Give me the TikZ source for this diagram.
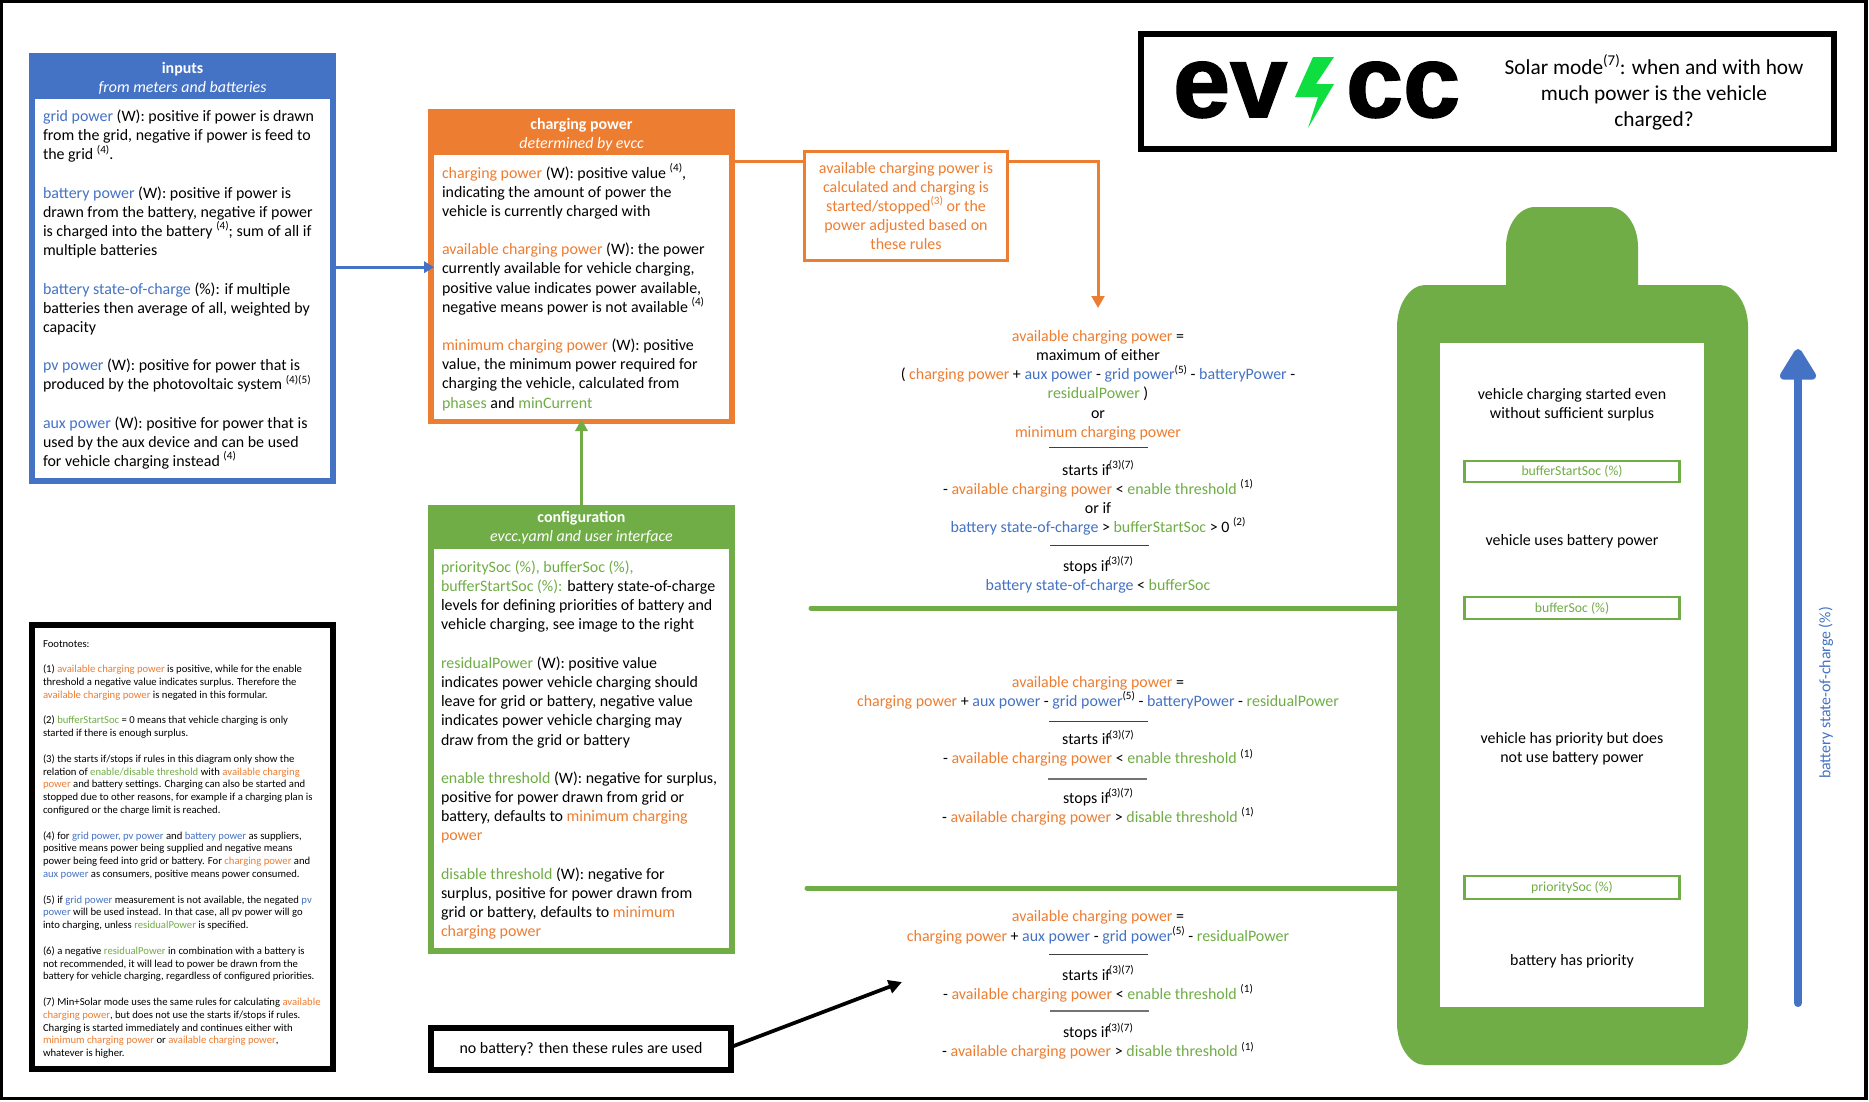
\documentclass[tikz,border=0pt]{standalone}
\usepackage{fontspec}
\usepackage{graphicx}
\usetikzlibrary{arrows.meta}
\setmainfont{Carlito}
\newfontfamily\logofont[BoldFeatures={FakeBold=1.5}]{Liberation Sans}
\definecolor{cblue}{HTML}{4472C4}
\definecolor{corange}{HTML}{ED7D31}
\definecolor{cgreen}{HTML}{70AD47}
\definecolor{cbolt}{HTML}{0FDE41}
\lineskiplimit=-30pt
\newcommand\cb[1]{\textcolor{cblue}{#1}}
\newcommand\co[1]{\textcolor{corange}{#1}}
\newcommand\cg[1]{\textcolor{cgreen}{#1}}
\newcommand\spr[1]{\raisebox{.42em}{\scalebox{.7}{#1}}}
\newcommand\tstr{\rule{0pt}{10pt}}
\newcommand\mainsize{\fontsize{11.95}{14.38}\selectfont}
\newcommand\smallsize{\fontsize{8}{9.6}\selectfont}
\tikzset{
  every node/.style={inner sep=0pt,outer sep=0pt},
  sized/.style n args={2}{minimum width=#1*0.75pt,minimum height=#2*0.75pt},
  body/.style={anchor=north west,align=left,font=\mainsize,text=black},
  form/.style={anchor=north,align=center,font=\mainsize,text=black},
  head/.style={anchor=center,align=center,font=\mainsize,text=white},
  whitebox/.style={fill=white},
  framed/.style={draw=#1,fill=white,line width=4.5pt},
  rulel/.style={draw=black!75,line width=1.1pt},
  conn/.style={draw=#1,line width=2.25pt},
  divider/.style={draw=cgreen,line width=3.75pt,line cap=round},
  socbox/.style={draw=cgreen,line width=2pt,fill=white,font=\fontsize{10.3}{12}\selectfont,text=cgreen},
  battxt/.style={align=center,font=\mainsize,text=black}
}
\begin{document}
\begin{tikzpicture}[x=0.75pt,y=-0.75pt]
\useasboundingbox (0,0) rectangle (1869,1101);
\fill[white] (0,0) rectangle (1869,1101);
\draw[black,line width=2.5pt] (1.7,1.7) rectangle (1866,1098.4);

% dividers (under the battery)
\coordinate (d1a) at (811,608);
\coordinate (d1b) at (1400,608);
\coordinate (d2a) at (807,888);
\coordinate (d2b) at (1400,888);
\draw[divider] (d1a) -- (d1b);
\draw[divider] (d2a) -- (d2b);

% battery
\fill[cgreen] (1506,247) .. controls (1506,225) and (1519,207) .. (1535,207) -- (1609,207)
 .. controls (1625,207) and (1638,225) .. (1638,247) -- (1638,285) -- (1720,285)
 .. controls (1735,285) and (1748,304) .. (1748,327) -- (1748,1023)
 .. controls (1748,1046) and (1735,1065) .. (1720,1065) -- (1425,1065)
 .. controls (1410,1065) and (1397,1046) .. (1397,1023) -- (1397,327)
 .. controls (1397,304) and (1410,285) .. (1425,285) -- (1506,285) -- cycle;
\node (batin) [whitebox,sized={264}{664}] at (1572,675) {};
\node (bstart) [socbox,sized={215.5}{21}] at (1572,471.5) {bufferStartSoc (\%)};
\node (bsoc) [socbox,sized={215.5}{22}] at (1572,608) {bufferSoc (\%)};
\node (psoc) [socbox,sized={215.5}{23}] at (1572,887.5) {prioritySoc (\%)};
\node (t1) [battxt,anchor=north] at (1572,386.4) {\tstr vehicle charging started even\\without sufficient surplus};
\node (t2) [battxt,anchor=north] at (1572,532.2) {\tstr vehicle uses battery power};
\node (t3) [battxt,anchor=north] at (1572,730.2) {\tstr vehicle has priority but does\\not use battery power};
\node (t4) [battxt,anchor=north] at (1572,952.4) {\tstr battery has priority};

% soc arrow
\coordinate (sa) at (1798,1003);
\coordinate (sb) at (1798,349);
\draw[draw=cblue,line width=6pt,line cap=round,-{Triangle[round,length=26pt,width=30pt]}] (sa) -- (sb);
\node (soclabel) [rotate=90,font=\fontsize{11.9}{14}\selectfont,text=cblue] at (1826,693) {battery state-of-charge (\%)};

% inputs
\node (inputs) [fill=cblue,sized={307}{431}] at (182.5,268.5) {};
\node (inputsin) [whitebox,sized={295}{379}] at (182.5,288.5) {};
\node (inh) [head] at (182.5,78.7) {\textbf{inputs}\\\textit{from meters and batteries}};
\node (intxt) [body] at (43,108.1) {\tstr\cb{grid power} (W): positive if power is drawn\\
from the grid, negative if power is feed to\\
the grid \spr{(4)}.\\[14.38pt]
\cb{battery power} (W): positive if power is\\
drawn from the battery, negative if power\\
is charged into the battery \spr{(4)}; sum of all if\\
multiple batteries\\[14.38pt]
\cb{battery state-of-charge} (\%): if multiple\\
batteries then average of all, weighted by\\
capacity\\[14.38pt]
\cb{pv power} (W): positive for power that is\\
produced by the photovoltaic system \spr{(4)(5)}\\[14.38pt]
\cb{aux power} (W): positive for power that is\\
used by the aux device and can be used\\
for vehicle charging instead \spr{(4)}};

% charging
\node (charging) [fill=corange,sized={307}{315}] at (581.5,266.5) {};
\node (chargingin) [whitebox,sized={295}{264}] at (581.5,287) {};
\node (chh) [head] at (581.5,134.7) {\textbf{charging power}\\\textit{determined by evcc}};
\node (chtxt) [body] at (442,163.2) {\tstr\co{charging power} (W): positive value \spr{(4)},\\
indicating the amount of power the\\
vehicle is currently charged with\\[14.38pt]
\co{available charging power} (W): the power\\
currently available for vehicle charging,\\
positive value indicates power available,\\
negative means power is not available \spr{(4)}\\[14.38pt]
\co{minimum charging power} (W): positive\\
value, the minimum power required for\\
charging the vehicle, calculated from\\
\cg{phases} and \cg{minCurrent}};

% configuration
\node (config) [fill=cgreen,sized={307}{449}] at (581.5,729.5) {};
\node (configin) [whitebox,sized={295}{399}] at (581.5,748.5) {};
\node (cfh) [head] at (581.5,527.7) {\textbf{configuration}\\\textit{evcc.yaml and user interface}};
\node (cftxt) [body] at (441,559.1) {\tstr\cg{prioritySoc (\%), bufferSoc (\%),}\\
\cg{bufferStartSoc (\%):} battery state-of-charge\\
levels for defining priorities of battery and\\
vehicle charging, see image to the right\\[14.38pt]
\cg{residualPower} (W): positive value\\
indicates power vehicle charging should\\
leave for grid or battery, negative value\\
indicates power vehicle charging may\\
draw from the grid or battery\\[14.38pt]
\cg{enable threshold} (W): negative for surplus,\\
positive for power drawn from grid or\\
battery, defaults to \co{minimum charging}\\
\co{power}\\[14.38pt]
\cg{disable threshold} (W): negative for\\
surplus, positive for power drawn from\\
grid or battery, defaults to \co{minimum}\\
\co{charging power}};

% no battery
\node (nobat) [framed=black,sized={300}{42},font=\mainsize] at (581,1049) {no battery? then these rules are used};

% footnotes
\node (foot) [framed=black,sized={301}{444}] at (182.5,847) {};
\node (foottxt) [anchor=north west,align=left,font=\smallsize,text=black] at (43,633.7) {\tstr Footnotes:\\[9.6pt]
(1) \co{available charging power} is positive, while for the enable\\
threshold a negative value indicates surplus. Therefore the\\
\co{available charging power} is negated in this formular.\\[9.6pt]
(2) \cg{bufferStartSoc} = 0 means that vehicle charging is only\\
started if there is enough surplus.\\[9.6pt]
(3) the starts if/stops if rules in this diagram only show the\\
relation of \cg{enable/disable threshold} with \co{available charging}\\
\co{power} and battery settings. Charging can also be started and\\
stopped due to other reasons, for example if a charging plan is\\
configured or the charge limit is reached.\\[9.6pt]
(4) for \cb{grid power, pv power} and \cb{battery power} as suppliers,\\
positive means power being supplied and negative means\\
power being feed into grid or battery. For \co{charging power} and\\
\cb{aux power} as consumers, positive means power consumed.\\[9.6pt]
(5) if \cb{grid power} measurement is not available, the negated \cb{pv}\\
\cb{power} will be used instead. In that case, all pv power will go\\
into charging, unless \cg{residualPower} is specified.\\[9.6pt]
(6) a negative \cg{residualPower} in combination with a battery is\\
not recommended, it will lead to power be drawn from the\\
battery for vehicle charging, regardless of configured priorities.\\[9.6pt]
(7) Min+Solar mode uses the same rules for calculating \co{available}\\
\co{charging power}, but does not use the starts if/stops if rules.\\
Charging is started immediately and continues either with\\
\co{minimum charging power} or \co{available charging power},\\
whatever is higher.};

% note
\node (note) [draw=corange,line width=2.25pt,fill=white,sized={203}{109},align=center,font=\mainsize,text=corange] at (906,206)
 {available charging power is\\calculated and charging is\\started/stopped\spr{(3)} or the\\power adjusted based on\\these rules};

% connectors
\coordinate (nl) at (note.west |- 0,161);
\coordinate (nr) at (note.east |- 0,161);
\coordinate (bend) at (1098,161);
\coordinate (tip1) at (1098,308);
\draw[conn=corange] (charging.east |- nl) -- (nl);
\draw[conn=corange,-{Triangle[length=9pt,width=9.5pt]}] (nr) -- (bend) -- (tip1);
\draw[conn=cblue,-{Triangle[length=7.5pt,width=8.5pt]}] ([yshift=1pt]inputs.east) -- ([yshift=1pt]inputs.east -| chargingin.west);
\draw[conn=cgreen,-{Triangle[length=9pt,width=9pt]}] (config.north) -- (chargingin.south);
\coordinate (tip2) at (902,982);
\draw[draw=black,line width=2.8pt,-{Triangle[length=10pt,width=10pt]}] ([yshift=1.5pt]nobat.east) -- (tip2);

% formula blocks
\node (f1) [form] at (1098,328.1) {\tstr\co{available charging power} =\\
maximum of either\\
( \co{charging power} + \cb{aux power} - \cb{grid power}\spr{(5)} - \cb{batteryPower} -\\
\cg{residualPower} )\\
or\\
\co{minimum charging power}};
\draw[rulel] (1049,447.5) -- (1148,447.5);
\node (f2) [form] at (1098,460.2) {\tstr starts if\kern-1pt\spr{(3)(7)}\\
- \co{available charging power} < \cg{enable threshold} \spr{(1)}\\
or if\\
\cb{battery state-of-charge} > \cg{bufferStartSoc} > 0 \spr{(2)}};
\draw[rulel] (1050,545.5) -- (1149,545.5);
\node (f3) [form] at (1098,556.7) {\tstr stops if\kern-1pt\spr{(3)(7)}\\
\cb{battery state-of-charge} < \cg{bufferSoc}};

\node (f4) [form] at (1098,674.1) {\tstr\co{available charging power} =\\
\co{charging power} + \cb{aux power} - \cb{grid power}\spr{(5)} - \cb{batteryPower} - \cg{residualPower}};
\draw[rulel] (1049,721.5) -- (1148,721.5);
\node (f5) [form] at (1098,729.9) {\tstr starts if\kern-1pt\spr{(3)(7)}\\
- \co{available charging power} < \cg{enable threshold} \spr{(1)}};
\draw[rulel,draw=black!55,line width=1.5pt] (1048,779) -- (1147,779);
\node (f6) [form] at (1098,788.2) {\tstr stops if\kern-1pt\spr{(3)(7)}\\
- \co{available charging power} > \cg{disable threshold} \spr{(1)}};

\node (f7) [form] at (1098,908.5) {\tstr\co{available charging power} =\\
\co{charging power} + \cb{aux power} - \cb{grid power}\spr{(5)} - \cg{residualPower}};
\draw[rulel] (1049,954.5) -- (1148,954.5);
\node (f8) [form] at (1098,965.2) {\tstr starts if\kern-1pt\spr{(3)(7)}\\
- \co{available charging power} < \cg{enable threshold} \spr{(1)}};
\draw[rulel,draw=black!55,line width=1.5pt] (1050,1011) -- (1149,1011);
\node (f9) [form] at (1098,1022.9) {\tstr stops if\kern-1pt\spr{(3)(7)}\\
- \co{available charging power} > \cg{disable threshold} \spr{(1)}};

% title box
\node (title) [framed=black,sized={693.5}{115.5}] at (1487.5,91.5) {};
\node (ev) [anchor=base west,font=\logofont\bfseries\fontsize{77}{77}\selectfont,text=black] at (1173,117) {ev};
\node (cc) [anchor=base west,font=\logofont\bfseries\fontsize{77}{77}\selectfont,text=black] at (1346,117) {cc};
\fill[cbolt] (1334,57) -- (1313,57) -- (1295,97) -- (1318,97) -- (1308,128) -- (1334,84) -- (1316,84) -- cycle;
\node (ttl) [align=center,font=\fontsize{16}{19.5}\selectfont,text=black] at (1654,92) {Solar mode\spr{(7)}: when and with how\\much power is the vehicle\\charged?};
\end{tikzpicture}
\end{document}
